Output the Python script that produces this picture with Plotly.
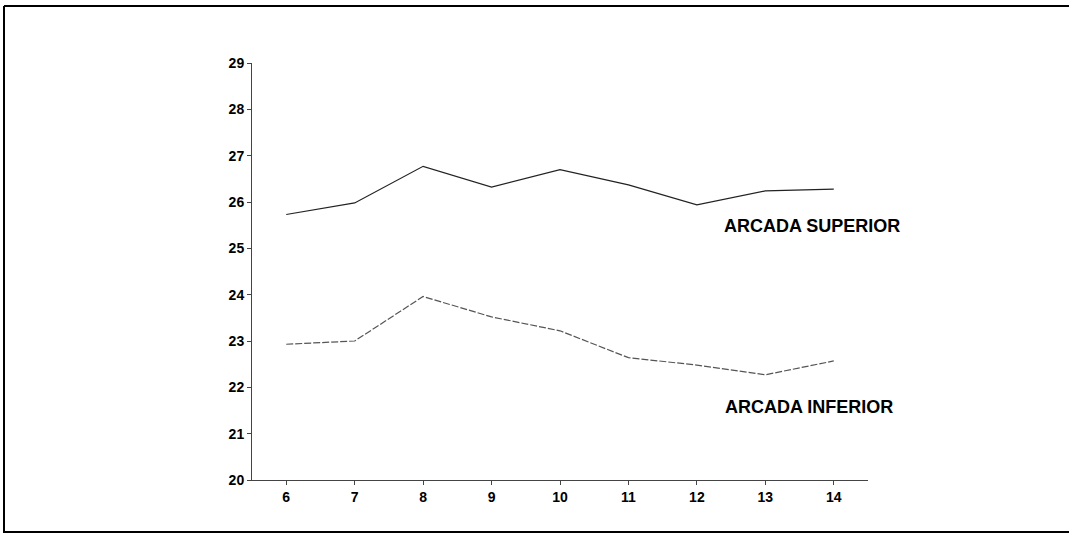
import plotly.graph_objects as go

ages = [6, 7, 8, 9, 10, 11, 12, 13, 14]
arcada_superior = [25.73, 25.98, 26.77, 26.32, 26.70, 26.37, 25.94, 26.24, 26.28]
arcada_inferior = [22.93, 23.00, 23.96, 23.52, 23.22, 22.64, 22.48, 22.27, 22.57]
y_ticks = [20, 21, 22, 23, 24, 25, 26, 27, 28, 29]
label_sup = "ARCADA SUPERIOR"
label_inf = "ARCADA INFERIOR"

W, H = 1069, 535
L, R, T, B = 252, 201, 63, 55
pw, ph = W - L - R, H - T - B

def px(x):
    return (x - L) / pw

def py(y):
    return (H - B - y) / ph

fig = go.Figure()
fig.add_trace(go.Scatter(x=ages, y=arcada_superior, mode="lines",
                         line=dict(color="#222", width=1.2), showlegend=False))
fig.add_trace(go.Scatter(x=ages, y=arcada_inferior, mode="lines",
                         line=dict(color="#555", width=1.2, dash="7px,2px"), showlegend=False))

font_lbl = dict(family="Liberation Sans, Arial, sans-serif", size=18, color="black")
fig.add_annotation(x=12.36, y=25.48, text="<b>%s</b>" % label_sup, showarrow=False,
                   xanchor="left", yanchor="middle", font=font_lbl)
fig.add_annotation(x=12.38, y=21.58, text="<b>%s</b>" % label_inf, showarrow=False,
                   xanchor="left", yanchor="middle", font=font_lbl)

# outer frame (top, left, bottom)
frame = dict(type="line", xref="paper", yref="paper", line=dict(color="black", width=2))
fig.add_shape(**frame, x0=px(4), x1=px(1069), y0=py(6), y1=py(6))
fig.add_shape(**frame, x0=px(4), x1=px(4), y0=py(6), y1=py(533))
fig.add_shape(**frame, x0=px(4), x1=px(1069), y0=py(532), y1=py(532))

tickfont = dict(family="Liberation Sans, Arial, sans-serif", size=14, color="black", weight="bold")
fig.update_xaxes(range=[5.5, 14.5], tickvals=ages, ticktext=[str(a) for a in ages],
                 showgrid=False, zeroline=False, showline=True, linecolor="#444", linewidth=1,
                 ticks="outside", ticklen=4, tickcolor="#444", tickfont=tickfont)
fig.update_yaxes(range=[20, 29], tickvals=y_ticks, showgrid=False, zeroline=False,
                 showline=True, linecolor="#444", linewidth=1, ticks="outside", ticklen=4,
                 tickcolor="#444", tickfont=tickfont)

fig.update_layout(width=W, height=H, margin=dict(l=L, r=R, t=T, b=B),
                  plot_bgcolor="white", paper_bgcolor="white")
fig.write_html("out.html", config={"displayModeBar": False},
               post_script="document.body.style.margin='0';document.body.style.overflow='hidden';")
